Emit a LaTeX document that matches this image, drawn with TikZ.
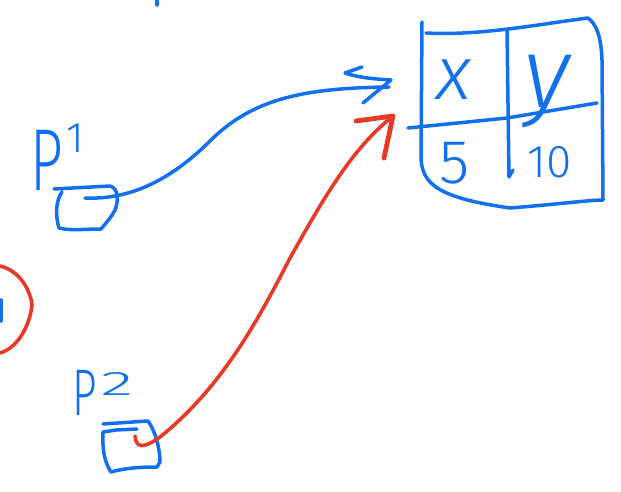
\documentclass[tikz,border=0pt]{standalone}
\usepackage{fontspec}
\newfontfamily\hand{Fira Sans}[UprightFont=* Light, ItalicFont=* Light Italic]
\definecolor{inkblue}{RGB}{18,112,240}
\definecolor{inkred}{RGB}{232,56,38}
\tikzset{
  ink/.style={draw=inkblue, line width=3.5pt, line cap=round, line join=round},
  redink/.style={draw=inkred, line width=3.6pt, line cap=round, line join=round},
  txt/.style={text=inkblue, inner sep=0pt, font=\hand}
}
\begin{document}
\begin{tikzpicture}[x=1pt,y=-1pt]
\useasboundingbox (0,0) rectangle (621,492);

% stray marks at the edges
\draw[ink] (157,0) -- (157,5);
\draw[ink] (1,300) -- (1,321);
\draw[redink] (0,266) .. controls (18,270) and (30,288) .. (32,305)
  .. controls (30,325) and (18,348) .. (0,353);

% object table
\node[inner sep=0pt, minimum width=184pt, minimum height=185pt] (obj) at (513,115) {};
\draw[ink] (422,22) -- (421,158) .. controls (422,185) and (440,198) .. (510,208)
  .. controls (560,204) and (590,200) .. (603,200) -- (602,60)
  .. controls (601,35) and (596,24) .. (588,18)
  .. controls (540,24) and (480,36) .. (426,33);
\draw[ink] (408,128) -- (507,118) -- (597,103);
\draw[ink] (507,30) -- (509,177) -- (513,170);
\node[txt, anchor=base] (xlab) at (454,100) {\fontsize{76}{76}\selectfont\itshape x};
\node[txt, anchor=base] (ylab) at (547,108) {\fontsize{100}{100}\selectfont\itshape y};
\node[txt, anchor=base] (five) at (455,183) {\fontsize{62}{62}\selectfont 5};
\node[txt, anchor=base] (ten) at (550,178) {\fontsize{46}{46}\selectfont 10};

% P1 variable box
\node[txt, anchor=base west] (p1) at (30,190)
  {\fontsize{88}{88}\selectfont\scalebox{0.65}[1]{P}\hspace{4pt}\raisebox{38pt}{\fontsize{43}{43}\selectfont 1}};
\draw[ink] (54,189) -- (110,186) .. controls (118,188) and (119,200) .. (115,210)
  .. controls (111,218) and (105,224) .. (101,229) .. controls (85,229) and (70,231) .. (59,228)
  .. controls (55,215) and (56,200) .. (62,192);
\coordinate (p1start) at (85,198);

% P2 variable box
\node[txt, anchor=base west] (p2) at (72,415)
  {\fontsize{66}{66}\selectfont\scalebox{0.65}[1]{P}\hspace{4pt}\raisebox{20pt}{\fontsize{34}{34}\selectfont\scalebox{2}[1]{2}}};
\draw[ink] (103,424) -- (148,421) .. controls (156,432) and (160,450) .. (160,462)
  -- (157,467) .. controls (140,467) and (125,468) .. (111,472)
  .. controls (104,462) and (102,446) .. (103,432) -- (116,430) -- (137,429);
\coordinate (p2start) at (135,436);

% pointers
\coordinate (tipA) at (389,87);
\coordinate (tipB) at (392,117);
\draw[ink] (p1start) .. controls (130,200) and (170,180) .. (208,143)
  .. controls (250,100) and (300,88) .. (tipA);
\draw[ink] (362,67) -- (345,73) .. controls (360,78) and (375,79) .. (391,80) -- (363,103);

\draw[redink] (p2start) .. controls (136,447) and (142,450) .. (160,437)
  .. controls (225,385) and (262,312) .. (290,258)
  .. controls (320,205) and (350,150) .. (tipB);
\draw[redink, line width=4.8pt] (356,121) -- (393,116) -- (384,158);
\end{tikzpicture}
\end{document}
